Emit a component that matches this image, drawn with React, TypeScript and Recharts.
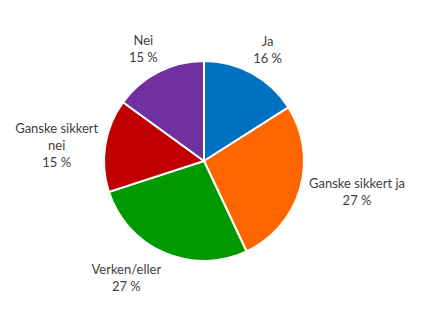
import React from "react";
import { PieChart, Pie, Cell } from "recharts";

// Survey answers, share of respondents in percent
const categories = ["Ja", "Ganske sikkert ja", "Verken/eller", "Ganske sikkert nei", "Nei"];
const shares = [16, 27, 27, 15, 15];
const colors = ["#0070C0", "#FF6600", "#009900", "#C00000", "#7030A0"];

const data = categories.map((name, i) => ({ name, value: shares[i] }));

const RADIAN = Math.PI / 180;
const FONT_SIZE = 13;
const LINE_H = 17;
const CHAR_W = 5.8;
const MAX_CHARS = 17;

// split a long category name onto two lines, like the original chart does
const wrap = (text: string): string[] => {
  if (text.length <= MAX_CHARS) return [text];
  const cut = text.lastIndexOf(" ", MAX_CHARS);
  return [text.slice(0, cut), text.slice(cut + 1)];
};

const renderLabel = (props: any) => {
  const { cx, cy, midAngle, outerRadius, name, value } = props;
  const dx = Math.cos(-midAngle * RADIAN);
  const dy = Math.sin(-midAngle * RADIAN);
  const ax = cx + (outerRadius + 8) * dx;
  const ay = cy + (outerRadius + 8) * dy;

  const lines = [...wrap(name), `${value} %`];
  const width = Math.max(...lines.map((l) => l.length * CHAR_W));
  const height = lines.length * LINE_H;

  const offX = Math.abs(dx) > 0.3 ? Math.sign(dx) : 0;
  const offY = Math.abs(dy) > 0.7 ? Math.sign(dy) : 0;
  const bx = ax + offX * (width / 2);
  const by = ay + offY * (height / 2);
  const top = by - height / 2;

  return (
    <text
      x={bx}
      y={top}
      textAnchor="middle"
      fill="#404040"
      fontSize={FONT_SIZE}
      fontFamily="Lato, 'Open Sans', sans-serif"
    >
      {lines.map((l, i) => (
        <tspan key={i} x={bx} y={top + LINE_H * i + 14}>
          {l}
        </tspan>
      ))}
    </text>
  );
};

const App: React.FC = () => {
  return (
    <div style={{ position: "absolute", left: 0, top: 0, background: "#fff" }}>
      <PieChart width={425} height={319} margin={{ top: 0, right: 0, bottom: 0, left: 0 }}>
        <Pie
          data={data}
          dataKey="value"
          nameKey="name"
          cx={204}
          cy={161}
          outerRadius={100}
          startAngle={90}
          endAngle={-270}
          stroke="#ffffff"
          strokeWidth={2}
          label={renderLabel}
          labelLine={false}
          isAnimationActive={false}
        >
          {data.map((d, i) => (
            <Cell key={d.name} fill={colors[i]} />
          ))}
        </Pie>
      </PieChart>
    </div>
  );
};

export default App;
